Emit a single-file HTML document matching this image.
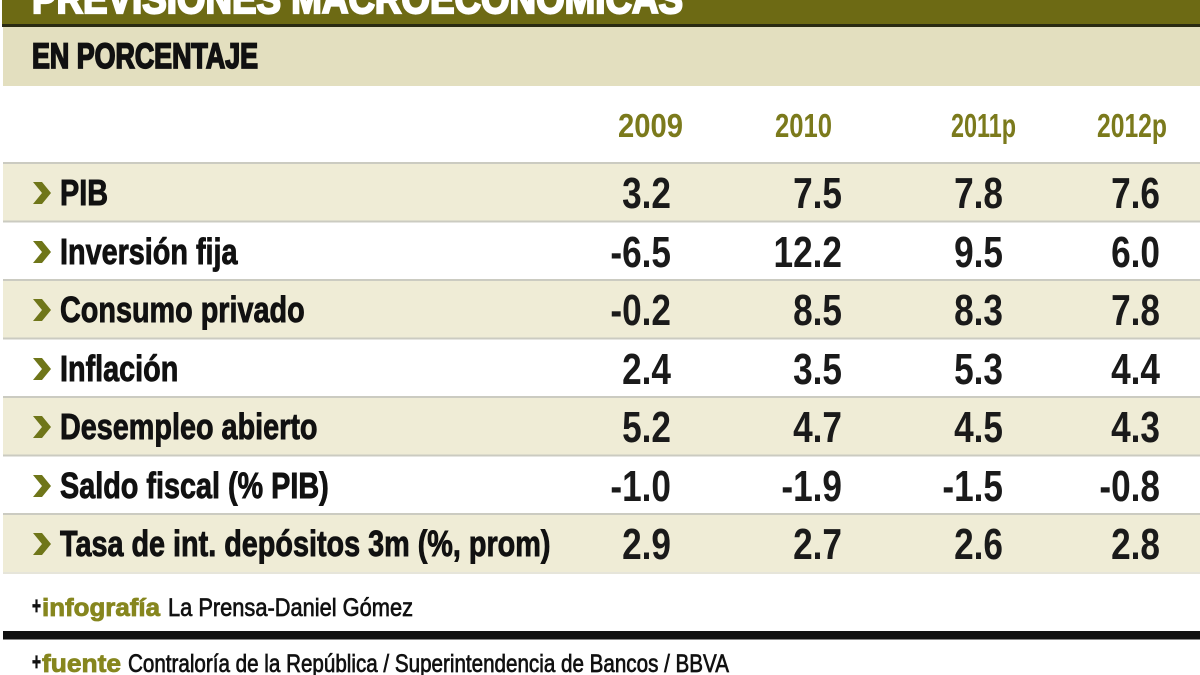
<!DOCTYPE html>
<html>
<head>
<meta charset="utf-8">
<style>
html,body{margin:0;padding:0;background:#fff;}
svg{display:block;}
text{font-family:"Liberation Sans",sans-serif;}
</style>
</head>
<body>
<svg width="1200" height="675" viewBox="0 0 1200 675" xmlns="http://www.w3.org/2000/svg">
  <rect x="0" y="0" width="1200" height="675" fill="#ffffff"/>
  <!-- title band -->
  <rect x="2" y="0" width="1198" height="25" fill="#6d6a14"/>
  <rect x="2" y="24" width="1198" height="3" fill="#2a2a12"/>
  <text x="32" y="13" font-size="42" font-weight="bold" fill="#ffffff" stroke="#ffffff" stroke-width="2.2" textLength="651" lengthAdjust="spacingAndGlyphs">PREVISIONES MACROECONÓMICAS</text>
  <!-- subheader band -->
  <rect x="3" y="27" width="1197" height="59" fill="#e3dfbf"/>
  <text x="32" y="68" font-size="35" font-weight="bold" fill="#111" stroke="#111" stroke-width="1.8" textLength="226" lengthAdjust="spacingAndGlyphs">EN PORCENTAJE</text>

  <!-- years -->
  <g font-size="33" font-weight="bold" fill="#7b7a1c">
    <text x="618" y="137" textLength="65" lengthAdjust="spacingAndGlyphs">2009</text>
    <text x="775" y="137" textLength="57" lengthAdjust="spacingAndGlyphs">2010</text>
    <text x="951" y="137" textLength="65" lengthAdjust="spacingAndGlyphs">2011p</text>
    <text x="1097" y="137" textLength="70" lengthAdjust="spacingAndGlyphs">2012p</text>
  </g>

  <!-- row backgrounds -->
  <rect x="3" y="163" width="1197" height="58.5" fill="#efecd6"/>
  <rect x="3" y="280" width="1197" height="58.5" fill="#efecd6"/>
  <rect x="3" y="397" width="1197" height="58.5" fill="#efecd6"/>
  <rect x="3" y="514" width="1197" height="58.5" fill="#efecd6"/>
  <!-- separators -->
  <g fill="#cbcbc1">
    <rect x="3" y="162" width="1197" height="2"/>
    <rect x="3" y="220.5" width="1197" height="2"/>
    <rect x="3" y="279" width="1197" height="2"/>
    <rect x="3" y="337.5" width="1197" height="2"/>
    <rect x="3" y="396" width="1197" height="2"/>
    <rect x="3" y="454.5" width="1197" height="2"/>
    <rect x="3" y="513" width="1197" height="2"/>
  </g>
  <rect x="3" y="572" width="1197" height="2" fill="#e6e5da"/>

  <!-- chevrons -->
  <g fill="#6f7619">
    <polygon points="33,182 42,182 51,193 42,204 33,204 42,193"/>
    <polygon points="33,241 42,241 51,252 42,263 33,263 42,252"/>
    <polygon points="33,299 42,299 51,310 42,321 33,321 42,310"/>
    <polygon points="33,358 42,358 51,369 42,380 33,380 42,369"/>
    <polygon points="33,416 42,416 51,427 42,438 33,438 42,427"/>
    <polygon points="33,475 42,475 51,486 42,497 33,497 42,486"/>
    <polygon points="33,533 42,533 51,544 42,555 33,555 42,544"/>
  </g>

  <!-- labels -->
  <g transform="translate(60,0) scale(0.8,1)" font-size="36" font-weight="bold" fill="#111" stroke="#111" stroke-width="0.9">
    <text x="0" y="205">PIB</text>
    <text x="0" y="264">Inversión fija</text>
    <text x="0" y="322">Consumo privado</text>
    <text x="0" y="381">Inflación</text>
    <text x="0" y="439">Desempleo abierto</text>
    <text x="0" y="498">Saldo fiscal (% PIB)</text>
    <text x="0" y="556">Tasa de int. depósitos 3m (%, prom)</text>
  </g>

  <!-- values col 1 -->
  <g transform="translate(671,0) scale(0.8,1)" font-size="44" font-weight="bold" fill="#1a1a1a" text-anchor="end">
    <text x="0" y="208">3.2</text>
    <text x="0" y="267">-6.5</text>
    <text x="0" y="325">-0.2</text>
    <text x="0" y="384">2.4</text>
    <text x="0" y="442">5.2</text>
    <text x="0" y="501">-1.0</text>
    <text x="0" y="559">2.9</text>
  </g>
  <!-- values col 2 -->
  <g transform="translate(842,0) scale(0.8,1)" font-size="44" font-weight="bold" fill="#1a1a1a" text-anchor="end">
    <text x="0" y="208">7.5</text>
    <text x="0" y="267">12.2</text>
    <text x="0" y="325">8.5</text>
    <text x="0" y="384">3.5</text>
    <text x="0" y="442">4.7</text>
    <text x="0" y="501">-1.9</text>
    <text x="0" y="559">2.7</text>
  </g>
  <!-- values col 3 -->
  <g transform="translate(1003,0) scale(0.8,1)" font-size="44" font-weight="bold" fill="#1a1a1a" text-anchor="end">
    <text x="0" y="208">7.8</text>
    <text x="0" y="267">9.5</text>
    <text x="0" y="325">8.3</text>
    <text x="0" y="384">5.3</text>
    <text x="0" y="442">4.5</text>
    <text x="0" y="501">-1.5</text>
    <text x="0" y="559">2.6</text>
  </g>
  <!-- values col 4 -->
  <g transform="translate(1160,0) scale(0.8,1)" font-size="44" font-weight="bold" fill="#1a1a1a" text-anchor="end">
    <text x="0" y="208">7.6</text>
    <text x="0" y="267">6.0</text>
    <text x="0" y="325">7.8</text>
    <text x="0" y="384">4.4</text>
    <text x="0" y="442">4.3</text>
    <text x="0" y="501">-0.8</text>
    <text x="0" y="559">2.8</text>
  </g>

  <!-- footer 1 -->
  <text x="32" y="614" font-size="24" font-weight="bold" fill="#111" stroke="#111" stroke-width="0.8" textLength="9" lengthAdjust="spacingAndGlyphs">+</text>
  <text x="42" y="616" font-size="25" font-weight="bold" fill="#86861e" stroke="#86861e" stroke-width="0.8" textLength="118" lengthAdjust="spacingAndGlyphs">infografía</text>
  <text x="168" y="616" font-size="25" fill="#111" stroke="#111" stroke-width="0.7" textLength="245" lengthAdjust="spacingAndGlyphs">La Prensa-Daniel Gómez</text>

  <!-- black rule -->
  <rect x="3" y="631" width="1197" height="8" fill="#111"/>
  <rect x="3" y="639" width="1197" height="1" fill="#888"/>

  <!-- footer 2 -->
  <text x="32" y="670" font-size="24" font-weight="bold" fill="#111" stroke="#111" stroke-width="0.8" textLength="9" lengthAdjust="spacingAndGlyphs">+</text>
  <text x="42" y="672" font-size="25" font-weight="bold" fill="#86861e" stroke="#86861e" stroke-width="0.8" textLength="79" lengthAdjust="spacingAndGlyphs">fuente</text>
  <text x="128" y="672" font-size="25" fill="#111" stroke="#111" stroke-width="0.7" textLength="601" lengthAdjust="spacingAndGlyphs">Contraloría de la República / Superintendencia de Bancos / BBVA</text>
</svg>
</body>
</html>
